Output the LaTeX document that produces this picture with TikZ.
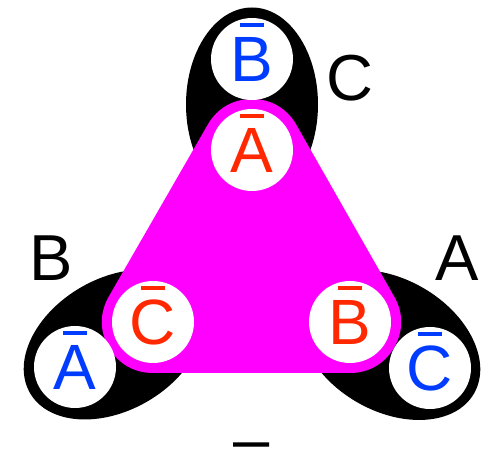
\documentclass[tikz,border=0pt]{standalone}
\usepackage{fontspec}
\setmainfont{Liberation Sans}
\usetikzlibrary{shapes.geometric, calc}

\definecolor{redtxt}{RGB}{255,40,0}
\definecolor{bluetxt}{RGB}{0,60,255}
\definecolor{pinkfill}{RGB}{255,0,255}

% 带横线的字母
\newcommand{\bart}[1]{\ooalign{#1\cr\hidewidth\rule[0.85em]{0.36em}{0.055em}\hidewidth\cr}}

\begin{document}
\begin{tikzpicture}[x=1pt, y=-1pt,
    % --- 样式定义 ---
    lobe/.style={ellipse, fill=black, inner sep=0pt, minimum width=194pt, minimum height=132pt},
    hole/.style={circle, fill=white, inner sep=0pt, minimum size=82pt, font=\fontsize{64}{64}\selectfont},
    label_text/.style={font=\fontsize{65}{65}\selectfont, anchor=base} % 字体大小
]
    \useasboundingbox (0,0) rectangle (491,457);

    % =========================================
    % 【坐标】 三角形的三个角 + 外侧小圆
    % =========================================
    \coordinate (pA) at (252,150); % 上角
    \coordinate (pC) at (153,322); % 左下角
    \coordinate (pB) at (350,322); % 右下角

    \coordinate (qB) at (252,59);
    \coordinate (qA) at (75,367);
    \coordinate (qC) at (430,368);

    % --- 1. 黑色椭圆 ---
    \node[lobe, rotate=90]  (lobeC) at ($(pA)!.5!(qB)$) {};
    \node[lobe, rotate=30]  (lobeB) at ($(pC)!.5!(qA)$) {};
    \node[lobe, rotate=-30] (lobeA) at ($(pB)!.5!(qC)$) {};

    % --- 2. 品红色圆角三角形 ---
    \filldraw[pinkfill, line width=102pt, line join=round] (pA) -- (pC) -- (pB) -- cycle;

    % --- 3. 白色圆 ---
    \node[hole, text=redtxt] (rA) at (pA) {\bart{A}};
    \node[hole, text=redtxt] (rC) at (pC) {\bart{C}};
    \node[hole, text=redtxt] (rB) at (pB) {\bart{B}};

    \node[hole, text=bluetxt] (bB) at (qB) {\bart{B}};
    \node[hole, text=bluetxt] (bA) at (qA) {\bart{A}};
    \node[hole, text=bluetxt] (bC) at (qC) {\bart{C}};

    % 标签
    \node[label_text] (labC) at (350,101) {C};
    \node[label_text] (labB) at (51,281) {B};
    \node[label_text] (labA) at (457,281) {A};
    \node[label_text, inner sep=0pt, text height=0.2em, text depth=0pt]
        (sign) at (252,450) {\raisebox{-0.18em}{–}};

\end{tikzpicture}
\end{document}
